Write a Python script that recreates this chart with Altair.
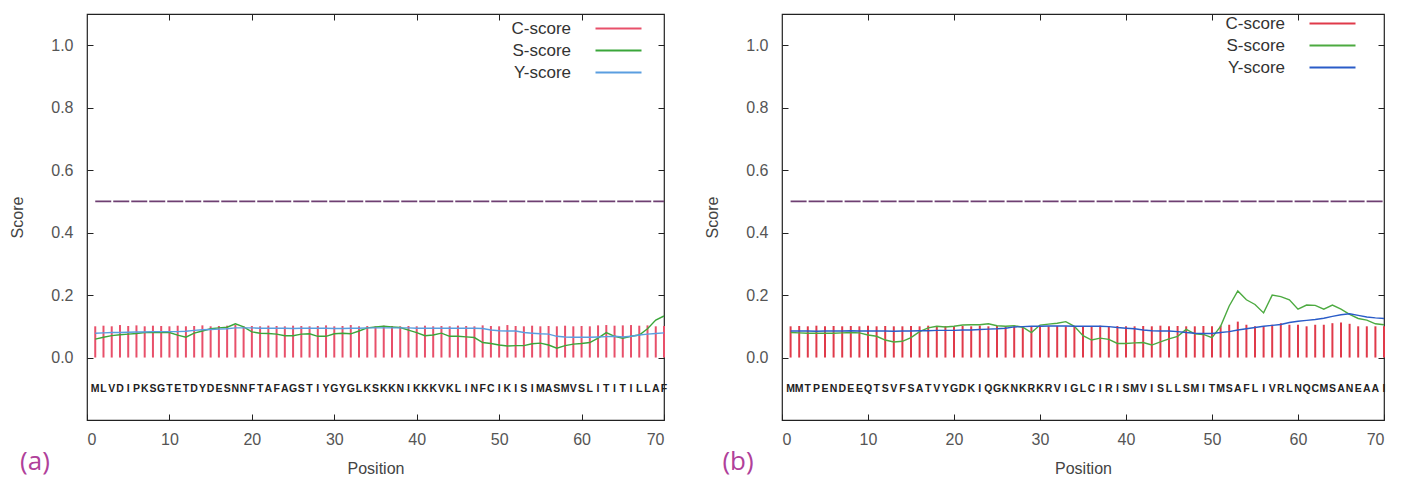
import altair as alt
import pandas as pd

POS = list(range(1, 71))
X_TICKS = [0, 10, 20, 30, 40, 50, 60, 70]
Y_TICKS = [0.0, 0.2, 0.4, 0.6, 0.8, 1.0]
SERIES = ["C-score", "S-score", "Y-score"]
THRESHOLD = [0.5]
SEQ_Y = [-0.1]
PANEL_LABELS = ["(a)", "(b)"]

SEQ_A = "MLVDIPKSGTETDYDESNNFTAFAGSTIYGYGLKSKKNIKKKVKLINFCIKISIMASMVSLITITILLAF"
SEQ_B = "MMTPENDEEQTSVFSATVYGDKIQGKNKRKRVIGLCIRISMVISLLSMITMSAFLIVRLNQCMSANEAAI"

C_A = [0.100, 0.102, 0.100, 0.104, 0.101, 0.103, 0.100, 0.102, 0.101, 0.100,
       0.102, 0.100, 0.101, 0.103, 0.100, 0.101, 0.102, 0.104, 0.100, 0.101,
       0.100, 0.102, 0.101, 0.100, 0.102, 0.101, 0.100, 0.101, 0.103, 0.100,
       0.101, 0.104, 0.100, 0.101, 0.100, 0.102, 0.101, 0.100, 0.101, 0.100,
       0.102, 0.100, 0.101, 0.100, 0.102, 0.101, 0.100, 0.103, 0.101, 0.100,
       0.104, 0.101, 0.100, 0.102, 0.100, 0.101, 0.100, 0.102, 0.100, 0.101,
       0.100, 0.103, 0.104, 0.102, 0.103, 0.104, 0.102, 0.103, 0.100, 0.101]
S_A = [0.059, 0.065, 0.070, 0.073, 0.075, 0.077, 0.080, 0.080, 0.080, 0.080,
       0.072, 0.065, 0.078, 0.085, 0.092, 0.095, 0.097, 0.108, 0.098, 0.082,
       0.078, 0.077, 0.075, 0.070, 0.070, 0.075, 0.076, 0.068, 0.068, 0.076,
       0.078, 0.076, 0.085, 0.095, 0.098, 0.100, 0.098, 0.096, 0.088, 0.080,
       0.070, 0.072, 0.078, 0.068, 0.068, 0.066, 0.064, 0.048, 0.045, 0.040,
       0.037, 0.038, 0.038, 0.044, 0.046, 0.040, 0.030, 0.038, 0.043, 0.045,
       0.048, 0.062, 0.080, 0.068, 0.062, 0.068, 0.072, 0.092, 0.120, 0.133]
Y_A = [0.078, 0.079, 0.080, 0.080, 0.081, 0.082, 0.082, 0.083, 0.083, 0.083,
       0.083, 0.084, 0.087, 0.089, 0.090, 0.091, 0.092, 0.095, 0.095, 0.095,
       0.094, 0.094, 0.094, 0.094, 0.093, 0.094, 0.094, 0.094, 0.094, 0.093,
       0.093, 0.094, 0.094, 0.095, 0.095, 0.095, 0.095, 0.095, 0.095, 0.094,
       0.094, 0.094, 0.094, 0.094, 0.094, 0.094, 0.094, 0.093, 0.088, 0.086,
       0.085, 0.085, 0.080, 0.078, 0.076, 0.075, 0.068, 0.066, 0.065, 0.065,
       0.065, 0.066, 0.067, 0.068, 0.066, 0.068, 0.072, 0.075, 0.077, 0.079]

C_B = [0.100, 0.101, 0.100, 0.102, 0.100, 0.101, 0.100, 0.101, 0.100, 0.102,
       0.100, 0.101, 0.100, 0.100, 0.101, 0.100, 0.102, 0.100, 0.101, 0.100,
       0.101, 0.100, 0.102, 0.100, 0.101, 0.100, 0.100, 0.101, 0.100, 0.102,
       0.100, 0.101, 0.100, 0.100, 0.101, 0.100, 0.102, 0.100, 0.101, 0.100,
       0.100, 0.101, 0.100, 0.102, 0.100, 0.101, 0.100, 0.100, 0.101, 0.100,
       0.102, 0.105, 0.115, 0.105, 0.100, 0.100, 0.105, 0.110, 0.105, 0.105,
       0.100, 0.105, 0.105, 0.110, 0.112, 0.108, 0.100, 0.100, 0.100, 0.100]
S_B = [0.080, 0.079, 0.078, 0.078, 0.078, 0.078, 0.079, 0.080, 0.079, 0.072,
       0.068, 0.056, 0.050, 0.052, 0.064, 0.083, 0.095, 0.100, 0.098, 0.100,
       0.104, 0.105, 0.105, 0.108, 0.102, 0.100, 0.102, 0.097, 0.080, 0.104,
       0.107, 0.110, 0.115, 0.100, 0.070, 0.056, 0.062, 0.058, 0.045, 0.045,
       0.047, 0.048, 0.040, 0.050, 0.060, 0.068, 0.090, 0.076, 0.074, 0.064,
       0.100, 0.165, 0.213, 0.185, 0.170, 0.143, 0.200, 0.195, 0.185, 0.155,
       0.168, 0.167, 0.155, 0.168, 0.155, 0.138, 0.125, 0.120, 0.108, 0.105]
Y_B = [0.085, 0.085, 0.085, 0.084, 0.085, 0.085, 0.085, 0.086, 0.085, 0.085,
       0.085, 0.085, 0.084, 0.085, 0.085, 0.086, 0.086, 0.087, 0.087, 0.087,
       0.088, 0.088, 0.090, 0.091, 0.092, 0.094, 0.098, 0.099, 0.100, 0.100,
       0.101, 0.101, 0.101, 0.100, 0.100, 0.100, 0.100, 0.099, 0.096, 0.094,
       0.092, 0.088, 0.086, 0.085, 0.085, 0.083, 0.080, 0.078, 0.077, 0.077,
       0.080, 0.083, 0.088, 0.092, 0.096, 0.100, 0.103, 0.106, 0.112, 0.116,
       0.119, 0.122, 0.126, 0.132, 0.137, 0.140, 0.135, 0.130, 0.127, 0.125]

H = 406
FONT = "Liberation Sans"


def panel(seq, c, s, y, colors, label, width, leg_x, leg_y, row_pad, lab_dx, lab_dy):
    df_c = pd.DataFrame({"pos": POS, "value": c, "series": SERIES[0]})
    df_l = pd.DataFrame({"pos": POS + POS, "value": s + y,
                         "series": [SERIES[1]] * len(POS) + [SERIES[2]] * len(POS)})
    df_seq = pd.DataFrame({"pos": POS, "aa": list(seq), "yy": SEQ_Y * len(POS)})
    df_thr = pd.DataFrame({"x1": [POS[0]], "x2": [POS[-1]], "yy": THRESHOLD})
    df_lab = pd.DataFrame({"lab": [label]})

    xs = alt.Scale(domain=[0, 70], nice=False, zero=False)
    ys = alt.Scale(domain=[-0.2, 1.1], nice=False, zero=False)
    cs = alt.Scale(domain=SERIES, range=colors)

    x_bottom = alt.Axis(values=X_TICKS, orient="bottom", offset=-6, tickSize=6, domain=False,
                        grid=False, labelPadding=11, labelFontSize=16, labelColor="#555",
                        labelFont=FONT, tickColor="#222", title="Position",
                        titleFontSize=16, titleColor="#444", titleFont=FONT,
                        titleFontWeight="normal", titleY=46, titleBaseline="top")
    y_left = alt.Axis(values=Y_TICKS, format=".1f", orient="left", offset=-6, tickSize=6,
                      domain=False, grid=False, labelPadding=14, labelFontSize=16,
                      labelColor="#555", labelFont=FONT, tickColor="#222", title="Score",
                      titleFontSize=16, titleColor="#444", titleFont=FONT,
                      titleFontWeight="normal", titleX=-76, titleY=H / 2,
                      titleBaseline="middle", titleAlign="center", titleAngle=270)
    x_top = alt.Axis(values=X_TICKS[1:-1], orient="top", offset=-6, tickSize=6, domain=False,
                     grid=False, labels=False, title=None, tickColor="#222")
    y_right = alt.Axis(values=Y_TICKS, orient="right", offset=-6, tickSize=6, domain=False,
                       grid=False, labels=False, title=None, tickColor="#222")

    legend = alt.Legend(orient="none", legendX=leg_x, legendY=leg_y, title=None,
                        symbolType="M-4.6,0H4.6", symbolSize=100, symbolStrokeWidth=2,
                        labelAlign="right", labelOffset={"expr": "-56"},
                        labelFontSize=17, labelFont=FONT, labelColor="#333",
                        rowPadding=row_pad, padding=0)

    impulses = alt.Chart(df_c).mark_rule(strokeWidth=2).encode(
        x=alt.X("pos:Q", scale=xs, axis=x_bottom),
        y=alt.Y("value:Q", scale=ys, axis=y_left),
        y2=alt.datum(0),
        color=alt.Color("series:N", scale=cs, legend=legend),
    )
    lines = alt.Chart(df_l).mark_line(strokeWidth=1.4).encode(
        x=alt.X("pos:Q", scale=xs, axis=None),
        y=alt.Y("value:Q", scale=ys, axis=None),
        color=alt.Color("series:N", scale=cs, legend=legend),
    )
    thr = alt.Chart(df_thr).mark_rule(strokeWidth=1.6, color="#6e3f72",
                                      strokeDash=[16, 2]).encode(
        x=alt.X("x1:Q", scale=xs, axis=None),
        x2="x2:Q",
        y=alt.Y("yy:Q", scale=ys, axis=None),
    )
    letters = alt.Chart(df_seq).mark_text(font=FONT, fontWeight="bold", fontSize=10.5,
                                          color="#222").encode(
        x=alt.X("pos:Q", scale=xs, axis=None),
        y=alt.Y("yy:Q", scale=ys, axis=None),
        text="aa:N",
    )
    mirror = alt.Chart(df_c).mark_point(opacity=0, size=1).encode(
        x=alt.X("pos:Q", scale=xs, axis=x_top),
        y=alt.Y("value:Q", scale=ys, axis=y_right),
    )
    plabel = alt.Chart(df_lab).mark_text(font="Open Sans", fontSize=26, color="#b0409a",
                                         align="center", baseline="middle").encode(
        x=alt.value(lab_dx), y=alt.value(lab_dy), text="lab:N")

    return alt.layer(impulses, lines, thr, letters, mirror, plabel).resolve_axis(
        x="independent", y="independent").properties(width=width, height=H)


pa = panel(SEQ_A, C_A, S_A, Y_A, ["#e8506a", "#3aa63a", "#5a9ee0"], PANEL_LABELS[0],
           577, 523, 6, 4, -52, 448)
pb = panel(SEQ_B, C_B, S_B, Y_B, ["#e03a4a", "#4caa40", "#2a5cc8"], PANEL_LABELS[1],
           602, 542, 1, 4, -44, 448)

chart = alt.hconcat(pa, pb, spacing=118, bounds="flush").resolve_scale(
    color="independent").resolve_legend(color="independent").properties(
    padding={"left": 0, "top": 4, "right": 0, "bottom": 0}
).configure_view(stroke="#222", strokeWidth=1.2)

chart.save("out.html", embed_options={"renderer": "svg", "actions": False})
